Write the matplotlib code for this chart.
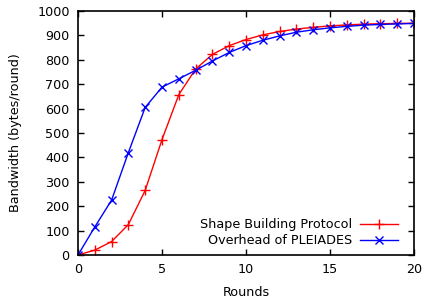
import matplotlib
matplotlib.use("Agg")
import matplotlib.pyplot as plt

rounds = list(range(21))
shape_building = [0, 20, 55, 125, 265, 473, 657, 762, 822, 858, 883, 902, 916, 926, 933, 939, 943, 946, 948, 949, 950]
pleiades = [0, 115, 225, 420, 605, 688, 722, 757, 795, 830, 858, 880, 898, 913, 923, 931, 937, 942, 945, 947, 949]

plt.rcParams['font.family'] = ['DejaVu Sans']
fs = 9.2

fig = plt.figure(figsize=(4.24, 3.06), dpi=100)
ax = fig.add_axes([78/424, 1 - 255/306, (414 - 78)/424, (255 - 11)/306])
ax.plot(rounds, shape_building, color='red', marker='+', markersize=7, markeredgewidth=1, linewidth=1, label='Shape Building Protocol')
ax.plot(rounds, pleiades, color='blue', marker='x', markersize=6, markeredgewidth=1, linewidth=1, label='Overhead of PLEIADES')
ax.set_xlim(0, 20)
ax.set_ylim(0, 1000)
ax.set_xticks([0, 5, 10, 15, 20])
ax.set_yticks(range(0, 1001, 100))
ax.tick_params(direction='in', top=True, right=True, length=4, width=1, colors='black', labelsize=fs, pad=6)
for s in ax.spines.values():
    s.set_linewidth(1.2)
ax.set_xlabel('Rounds', fontsize=fs, labelpad=7)
ax.set_ylabel('Bandwidth (bytes/round)', fontsize=fs, labelpad=11)
ax.legend(loc='lower right', bbox_to_anchor=(1 - 8/336, 0), frameon=False, markerfirst=False, fontsize=fs,
          handlelength=3.0, borderaxespad=0.2, labelspacing=0.25, handletextpad=0.6)
fig.savefig('out.png', dpi=100)
